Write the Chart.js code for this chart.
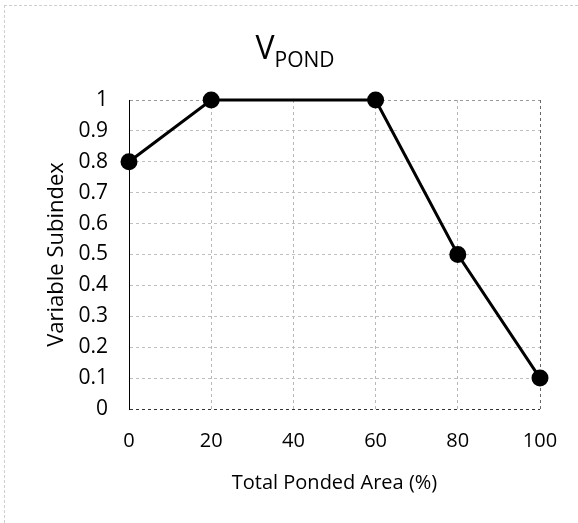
<!DOCTYPE html>
<html>
<head>
<meta charset="utf-8">
<script src="https://cdn.jsdelivr.net/npm/chart.js@4.4.0/dist/chart.umd.min.js"></script>
<style>
  html, body { margin: 0; padding: 0; background: #fff; }
  #wrap { position: relative; width: 578px; height: 523px; }
  #frame { position: absolute; left: 4px; top: 5px; right: -10px; bottom: -10px; border-top: 1px dashed #cfcfcf; border-left: 1px dashed #cfcfcf; pointer-events: none; }
  canvas { position: absolute; left: 0; top: 0; }
</style>
</head>
<body>
<div id="wrap">
  <canvas id="c" width="578" height="523"></canvas>
  <div id="frame"></div>
</div>
<script>
const titleMain = "V";
const titleSub = "POND";
const xAxisTitle = "Total Ponded Area (%)";
const yAxisTitle = "Variable Subindex";
const xValues = [0, 20, 60, 80, 100];
const yValues = [0.8, 1, 1, 0.5, 0.1];
const xTicks = [0, 20, 40, 60, 80, 100];
const yTicks = [0, 0.1, 0.2, 0.3, 0.4, 0.5, 0.6, 0.7, 0.8, 0.9, 1];

const FONT = "'Open Sans', sans-serif";

const titlePlugin = {
  id: 'subTitle',
  afterDraw(chart) {
    const ctx = chart.ctx;
    ctx.save();
    ctx.fillStyle = '#000';
    ctx.textBaseline = 'alphabetic';
    ctx.font = "32px " + FONT;
    const w1 = ctx.measureText(titleMain).width;
    ctx.font = "21px " + FONT;
    const w2 = ctx.measureText(titleSub).width;
    const cx = 295;
    const start = cx - (w1 + w2) / 2;
    ctx.font = "32px " + FONT;
    ctx.fillText(titleMain, start, 59);
    ctx.font = "21px " + FONT;
    ctx.fillText(titleSub, start + w1, 67);
    ctx.restore();
  }
};

new Chart(document.getElementById('c'), {
  type: 'line',
  data: {
    datasets: [{
      data: xValues.map((x, i) => ({ x: x, y: yValues[i] })),
      borderColor: '#000',
      backgroundColor: '#000',
      borderWidth: 3,
      pointRadius: 7,
      pointBackgroundColor: '#000',
      pointBorderColor: '#000',
      tension: 0,
      clip: false
    }]
  },
  options: {
    responsive: false,
    animation: false,
    layout: { padding: { left: 0, right: 38, top: 100, bottom: 0 } },
    plugins: { legend: { display: false }, tooltip: { enabled: false } },
    scales: {
      x: {
        type: 'linear',
        min: 0, max: 100,
        afterFit(s) { s.height = 114; },
        afterBuildTicks(s) { s.ticks = xTicks.map(v => ({ value: v })); },
        ticks: { color: '#000', font: { family: FONT, size: 20 }, padding: 20, maxRotation: 0 },
        grid: {
          drawTicks: false,
          color: ctx => (ctx.tick && ctx.tick.value === 100) ? '#666' : (ctx.tick && ctx.tick.value === 0 ? 'rgba(0,0,0,0)' : '#b8b8b8'),
          lineWidth: 1
        },
        border: { display: false, dash: [3, 3] },
        title: { display: true, text: xAxisTitle, color: '#000', font: { family: FONT, size: 20 }, padding: { top: 0, bottom: 28 } }
      },
      y: {
        type: 'linear',
        min: 0, max: 1,
        afterFit(s) { s.width = 129; },
        afterBuildTicks(s) { s.ticks = yTicks.map(v => ({ value: v })); },
        ticks: {
          color: '#000', font: { family: FONT, size: 21 }, padding: 21,
          callback: v => String(Math.round(v * 10) / 10)
        },
        grid: {
          drawTicks: false,
          color: ctx => (ctx.tick && ctx.tick.value === 0) ? '#333' : (ctx.tick && ctx.tick.value === 1 ? '#999' : '#c0c0c0'),
          lineWidth: 1
        },
        border: { display: true, color: '#000', width: 1, dash: [3, 3] },
        title: { display: true, text: yAxisTitle, color: '#000', font: { family: FONT, size: 22 }, padding: { top: 44, bottom: 0 } }
      }
    }
  },
  plugins: [titlePlugin]
});
</script>
</body>
</html>
